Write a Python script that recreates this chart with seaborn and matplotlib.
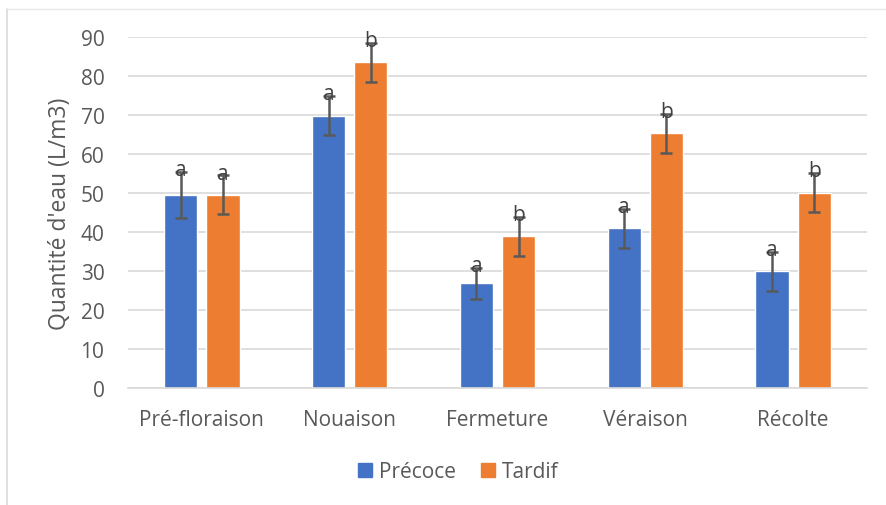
import pandas as pd
import numpy as np
import matplotlib.pyplot as plt
import seaborn as sns
from matplotlib.lines import Line2D

stades = ['Pré-floraison', 'Nouaison', 'Fermeture', 'Véraison', 'Récolte']
precoce = [49.5, 69.8, 26.8, 41.0, 30.0]
tardif = [49.5, 83.5, 38.9, 65.3, 50.1]
err_precoce = [6.0, 5.0, 4.0, 5.0, 5.0]
err_tardif = [5.0, 5.0, 5.0, 5.0, 5.0]
lettres_precoce = ['a', 'a', 'a', 'a', 'a']
lettres_tardif = ['a', 'b', 'b', 'b', 'b']

df = pd.DataFrame({
    'Stade': stades * 2,
    'Quantite': precoce + tardif,
    'Variete': ['Précoce'] * 5 + ['Tardif'] * 5,
})

sns.set_style('white')
plt.rcParams['font.family'] = ['Open Sans', 'DejaVu Sans']
txt = '#595959'

fig = plt.figure(figsize=(8.86, 5.06), dpi=100)
ax = fig.add_axes([128 / 886, 1 - 389 / 506, (867 - 128) / 886, (389 - 38) / 506])

sns.barplot(data=df, x='Stade', y='Quantite', hue='Variete', order=stades,
            hue_order=['Précoce', 'Tardif'], palette=['#4472C4', '#ED7D31'],
            saturation=1, width=0.57, gap=0.21, errorbar=None, ax=ax, legend=False)

# error bars + letters
bars = ax.patches
for i, bar in enumerate(bars[:10]):
    x = bar.get_x() + bar.get_width() / 2
    h = bar.get_height()
    if i < 5:
        e, lt = err_precoce[i], lettres_precoce[i]
    else:
        e, lt = err_tardif[i - 5], lettres_tardif[i - 5]
    ax.errorbar(x, h, yerr=e, color='#595959', capsize=4.5, elinewidth=1.8,
                capthick=1.8, zorder=4)
    ax.text(x, h + e - 0.8, lt, ha='center', va='baseline', fontsize=15,
            color='#404040', zorder=5)

ax.set_ylim(0, 90)
ax.set_xlim(-0.5, 4.5)
ax.set_yticks(range(0, 91, 10))
ax.yaxis.grid(True, color='#d9d9d9', linewidth=1.2)
ax.set_axisbelow(True)
for s in ['top', 'right', 'left']:
    ax.spines[s].set_visible(False)
ax.spines['bottom'].set_color('#d9d9d9')
ax.spines['bottom'].set_linewidth(1.2)
ax.tick_params(axis='both', length=0, labelsize=15, colors=txt)
ax.tick_params(axis='y', pad=17)
ax.tick_params(axis='x', pad=15)
ax.set_xlabel('')
ax.set_ylabel("Quantité d'eau (L/m3)", fontsize=16.5, color=txt, labelpad=6)

handles = [Line2D([], [], marker='s', linestyle='', markersize=10, color='#4472C4'),
           Line2D([], [], marker='s', linestyle='', markersize=10, color='#ED7D31')]
fig.legend(handles, ['Précoce', 'Tardif'], loc='center', bbox_to_anchor=(456 / 886, 1 - 473 / 506),
           ncol=2, frameon=False, fontsize=15, labelcolor=txt, handletextpad=0.1,
           columnspacing=1.0, handlelength=1.1)

# chart frame (partial, as in the reference)
fig.add_artist(Line2D([7 / 886, 7 / 886], [0, 1 - 10 / 506], color='#d9d9d9', lw=1.2))
fig.add_artist(Line2D([7 / 886, 1], [1 - 10 / 506, 1 - 10 / 506], color='#e8e8e8', lw=1.0))

fig.savefig('out.png', dpi=100)
